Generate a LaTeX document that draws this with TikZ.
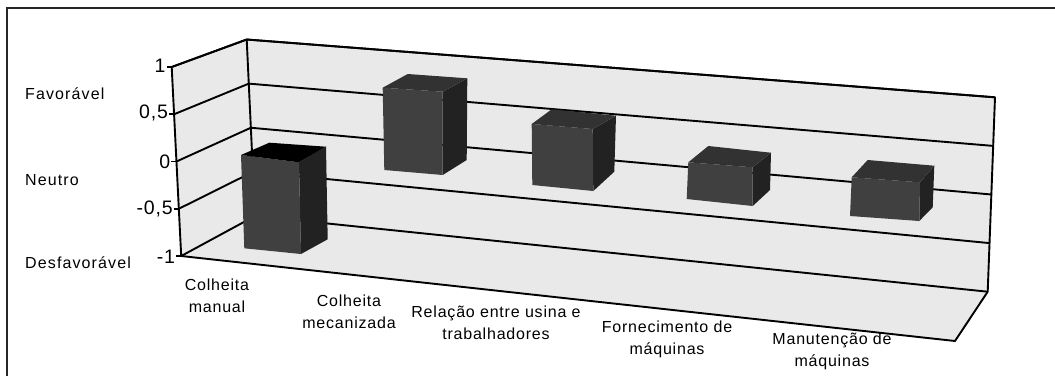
\documentclass[tikz,border=0pt]{standalone}
\usepackage{fontspec}
\setmainfont{Liberation Sans}
\newfontfamily\catfont[LetterSpace=5]{Liberation Sans}
\newfontfamily\sidefont[LetterSpace=7]{Liberation Sans}
\newfontfamily\tickfont[LetterSpace=4]{Liberation Sans}
\usetikzlibrary{calc}
\definecolor{wallgray}{HTML}{E9E9E9}
\definecolor{barfront}{HTML}{404040}
\definecolor{barside}{HTML}{222222}
\definecolor{bartop}{HTML}{323232}
\tikzset{
  wall/.style={fill=wallgray, draw=none},
  gline/.style={draw=black, line width=1.9pt, line join=round},
  frontface/.style={fill=barfront},
  sideface/.style={fill=barside},
  topface/.style={fill=bartop},
  catlabel/.style={align=center, inner sep=0pt, font=\catfont\fontsize{16}{22}\selectfont},
  ticklabel/.style={anchor=east, inner sep=0pt, font=\tickfont\fontsize{19.5}{21}\selectfont},
  sidelabel/.style={anchor=west, inner sep=0pt, font=\sidefont\fontsize{16}{18}\selectfont},
}
\begin{document}
\begin{tikzpicture}[x=1pt,y=-1pt]
\useasboundingbox (0,0) rectangle (1055,376);
% outer frame (left and top edges visible)
\draw[line width=1.3pt, draw=black!85] (7,376) -- (7,8) -- (1055,8);

% chart corners
\coordinate (FT) at (171.7,67);
\coordinate (FB) at (181.2,256);
\coordinate (BLT) at (246.7,39.5);
\coordinate (BLB) at (255,216);
\coordinate (BRT) at (995,97.3);
\coordinate (BRB) at (987.7,291.7);
\coordinate (FR) at (955,341);

% walls and floor
\fill[wall] (FT) -- (BLT) -- (BLB) -- (FB) -- cycle;
\fill[wall] (BLT) -- (BRT) -- (BRB) -- (BLB) -- cycle;
\fill[wall] (FB) -- (BLB) -- (BRB) -- (FR) -- cycle;

% gridlines
\foreach \t in {0,0.25,0.5,0.75,1}{
  \draw[gline] ($(FT)!\t!(FB)$) -- ($(BLT)!\t!(BLB)$) -- ($(BRT)!\t!(BRB)$);
  \draw[gline] ($(FT)!\t!(FB)$) -- ++(-5,0);
}
% borders
\draw[gline] (FB) -- (FT) -- (BLT) -- (BRT) -- (BRB) -- (FR) -- (FB);
\draw[gline] (BLT) -- (BLB);

% bar 1 (Colheita manual)
\fill[sideface] (299,162.3) -- (301,254) -- (327.7,239.3) -- (326,146.7) -- cycle;
\fill[frontface] (241,155) -- (299,162.3) -- (301,254) -- (244.3,248.3) -- cycle;
\fill[black] (241,155) -- (299,162.3) -- (326,146.7) -- (269.3,142.7) -- cycle;

% bar 2 (Colheita mecanizada)
\fill[sideface] (442.7,91.7) -- (442.7,175) -- (466.7,160) -- (467.3,78.3) -- cycle;
\fill[frontface] (382.7,87.7) -- (442.7,91.7) -- (442.7,175) -- (384.3,170) -- cycle;
\fill[topface] (382.7,87.7) -- (442.7,91.7) -- (467.3,78.3) -- (407.7,74) -- cycle;

% bar 3 (Relacao)
\fill[sideface] (592.7,129) -- (593.3,191) -- (614.3,171.7) -- (616,115.7) -- cycle;
\fill[frontface] (531.7,124) -- (592.7,129) -- (593.3,191) -- (532.3,185) -- cycle;
\fill[topface] (531.7,124) -- (592.7,129) -- (616,115.7) -- (551.7,109.3) -- cycle;

% bar 4 (Fornecimento)
\fill[sideface] (752.7,167.3) -- (752.7,206) -- (770,190) -- (771,152.7) -- cycle;
\fill[frontface] (688.3,162.3) -- (752.7,167.3) -- (752.7,206) -- (686.7,199) -- cycle;
\fill[topface] (688.3,162.3) -- (752.7,167.3) -- (771,152.7) -- (708.3,146) -- cycle;

% bar 5 (Manutencao)
\fill[sideface] (920,182.3) -- (919.3,221) -- (932.7,207.3) -- (934.3,165.7) -- cycle;
\fill[frontface] (851.7,177.3) -- (920,182.3) -- (919.3,221) -- (850,216) -- cycle;
\fill[topface] (851.7,177.3) -- (920,182.3) -- (934.3,165.7) -- (867.7,160) -- cycle;

% tick labels
\node[ticklabel] (t1) at ($(FT)!0!(FB) + (-6,-1)$) {1};
\node[ticklabel] (t2) at ($(FT)!0.25!(FB) + (-6,-1)$) {0,5};
\node[ticklabel] (t3) at ($(FT)!0.5!(FB) + (-6,0)$) {0};
\node[ticklabel] (t4) at ($(FT)!0.75!(FB) + (-6,0)$) {-0,5};
\node[ticklabel] (t5) at ($(FT)!1!(FB) + (-6,1)$) {-1};

% side labels
\node[sidelabel] (fav) at (25,93.3) {Favorável};
\node[sidelabel] (neu) at (25,180) {Neutro};
\node[sidelabel] (des) at (25,263) {Desfavorável};

% category labels
\node[catlabel] (c1) at (217,296) {Colheita\\manual};
\node[catlabel] (c2) at (349,311.3) {Colheita\\mecanizada};
\node[catlabel] (c3) at (496,323) {Relação entre usina e\\trabalhadores};
\node[catlabel] (c4) at (667,339.5) {Fornecimento de\\máquinas};
\node[catlabel] (c5) at (832,351) {Manutenção de\\máquinas};
\end{tikzpicture}
\end{document}
